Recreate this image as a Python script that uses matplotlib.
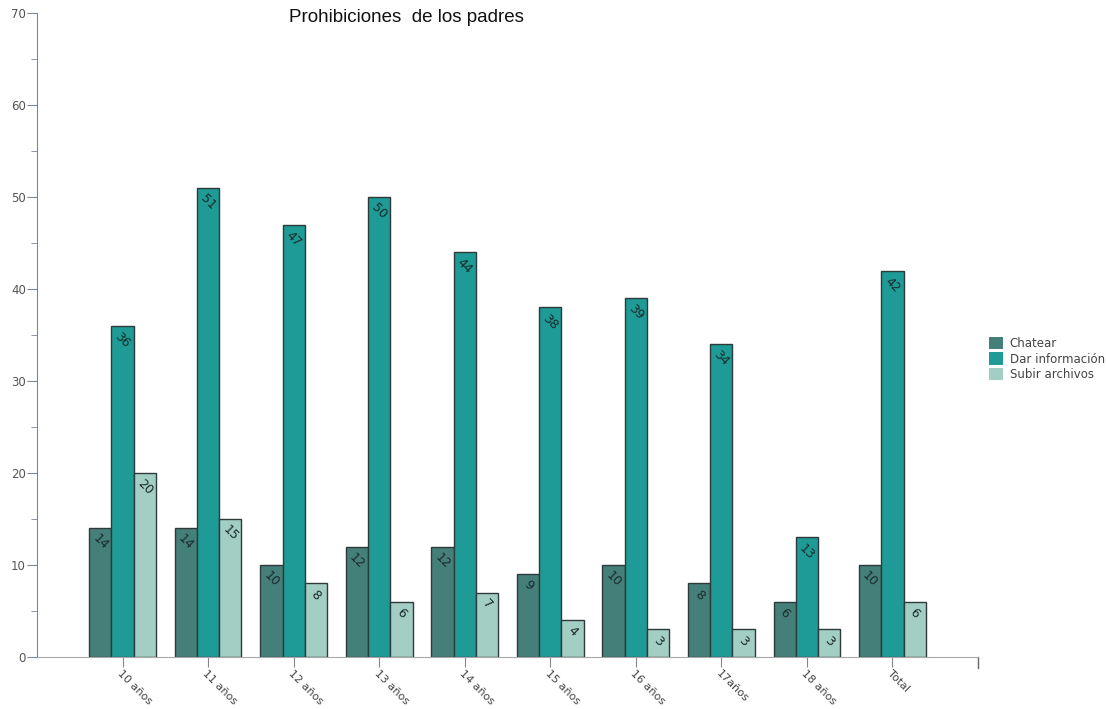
import matplotlib
matplotlib.use("Agg")
import matplotlib.pyplot as plt
import numpy as np
from matplotlib.ticker import MultipleLocator
from matplotlib.patches import Patch

categories = ["10 años", "11 años", "12 años", "13 años", "14 años", "15 años",
              "16 años", "17años", "18 años", "Total"]
series_names = ["Chatear", "Dar información", "Subir archivos"]
chatear = [14, 14, 10, 12, 12, 9, 10, 8, 6, 10]
dar_info = [36, 51, 47, 50, 44, 38, 39, 34, 13, 42]
subir = [20, 15, 8, 6, 7, 4, 3, 3, 3, 6]
colors = ["#457F7A", "#1E9B96", "#A2CEC4"]

plt.rcParams['font.family'] = ['DejaVu Sans']
fig = plt.figure(figsize=(11.06, 7.09), dpi=100)
ax = fig.add_axes([37/1106, 1-657/709, (978-37)/1106, (657-13)/709])

x = np.arange(1, len(categories) + 1)
w = 0.26
for i, (vals, col) in enumerate(zip([chatear, dar_info, subir], colors)):
    pos = x + (i - 1) * w
    ax.bar(pos, vals, width=w, color=col, edgecolor="#2e3a39", linewidth=1.0)
    for px, v in zip(pos, vals):
        ax.annotate(str(v), (px, v), xytext=(0, -3), textcoords="offset points",
                    rotation=-45, ha="center", va="top", fontsize=9,
                    color="#1a2a2a")

ax.set_xlim(0, 11)
ax.set_ylim(0, 70)
ax.set_xticks(x)
ax.set_xticklabels(categories, rotation=-45, ha="left", va="top",
                   rotation_mode="anchor", fontsize=8, color="#444444")
ax.yaxis.set_major_locator(MultipleLocator(10))
ax.yaxis.set_minor_locator(MultipleLocator(5))
ax.tick_params(axis="y", which="major", length=7, color="#7a8796",
               labelsize=8.5, labelcolor="#555555", pad=1)
ax.tick_params(axis="y", which="minor", length=4, color="#7a8796")
ax.tick_params(axis="x", which="major", length=7, color="#888888", pad=1.5)

for s in ["top", "right"]:
    ax.spines[s].set_visible(False)
ax.spines["left"].set_color("#7a8796")
ax.spines["bottom"].set_color("#a8a8a8")

# end tick on x axis
ax.plot([11, 11], [0, -1.2], color="#666666", lw=1.0, clip_on=False)

fig.text(406/1106, 1-18/709, "Prohibiciones  de los padres", ha="center",
         va="center", fontsize=13.5, color="#111111",
         family=["Liberation Sans", "DejaVu Sans"])

handles = [Patch(facecolor=c, edgecolor="none") for c in colors]
fig.legend(handles, series_names, loc="center left",
           bbox_to_anchor=(978/1106, 1-359/709), frameon=False, fontsize=8.5,
           handlelength=1.2, handleheight=1.2, handletextpad=0.6,
           labelspacing=0.2, labelcolor="#444444")

fig.savefig("out.png", dpi=100)
